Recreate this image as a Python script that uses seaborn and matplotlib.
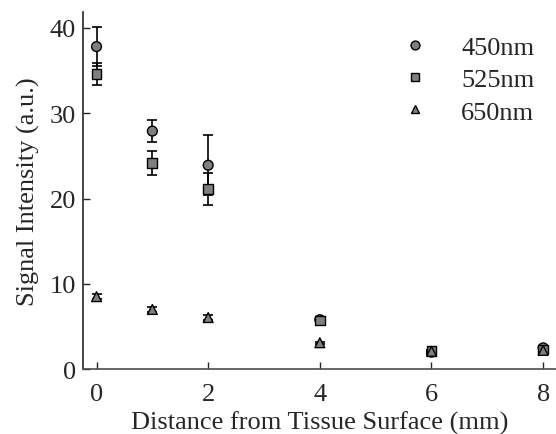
import pandas as pd
import matplotlib.pyplot as plt
import seaborn as sns

# Data
distance = [0, 1, 2, 4, 6, 8]
labels = ['450nm', '525nm', '650nm']
s450 = [37.8, 27.9, 23.9, 5.8, 2.0, 2.5]
e450 = [2.3, 1.3, 3.5, 0.2, 0.2, 0.2]
s525 = [34.6, 24.2, 21.1, 5.7, 2.1, 2.3]
e525 = [1.3, 1.4, 1.9, 0.2, 0.2, 0.2]
s650 = [8.5, 7.0, 6.05, 3.1, 2.1, 2.2]
e650 = [0.3, 0.3, 0.3, 0.1, 0.1, 0.1]

df = pd.DataFrame({
    'Distance': distance * 3,
    'Signal': s450 + s525 + s650,
    'Err': e450 + e525 + e650,
    'Wavelength': [w for w in labels for _ in distance],
})

sns.set_style('ticks')
plt.rcParams['font.family'] = ['Liberation Serif', 'DejaVu Serif']
plt.rcParams['xtick.direction'] = 'in'
plt.rcParams['ytick.direction'] = 'in'

fig = plt.figure(figsize=(5.56, 4.35), dpi=100)
ax = fig.add_axes([0.149, 0.149, 0.851, 0.821])

# error bars first
for w in labels:
    sub = df[df['Wavelength'] == w]
    ax.errorbar(sub['Distance'], sub['Signal'], yerr=sub['Err'],
                fmt='none', ecolor='black', elinewidth=1.2,
                capsize=3.5, capthick=1.2, zorder=2)

sns.scatterplot(
    data=df, x='Distance', y='Signal',
    style='Wavelength', style_order=labels,
    markers=['o', 's', '^'],
    color='#7f7f7f', edgecolor='black', linewidth=1.0,
    s=50, zorder=3, ax=ax
)

ax.set_xlim(-0.245, 8.23)
ax.set_ylim(0, 41.85)
ax.set_xticks([0, 2, 4, 6, 8])
ax.set_yticks([0, 10, 20, 30, 40])
ax.tick_params(labelsize=19, length=5, width=1)
ax.tick_params(axis='x', pad=10)
ax.tick_params(axis='y', pad=5)
ax.set_xlabel('Distance from Tissue Surface (mm)', fontsize=19, labelpad=4)
ax.set_ylabel('Signal Intensity (a.u.)', fontsize=19, labelpad=7)
sns.despine(ax=ax)
ax.spines['left'].set_linewidth(1.2)
ax.spines['bottom'].set_linewidth(1.2)
ax.spines['bottom'].set_color('0.3')

leg = ax.legend(frameon=False, fontsize=19, loc='upper right',
                bbox_to_anchor=(1.005, 1.0), markerscale=0.9,
                handletextpad=0.75, labelspacing=0.33, title=None)

plt.savefig('out.png', dpi=100)
